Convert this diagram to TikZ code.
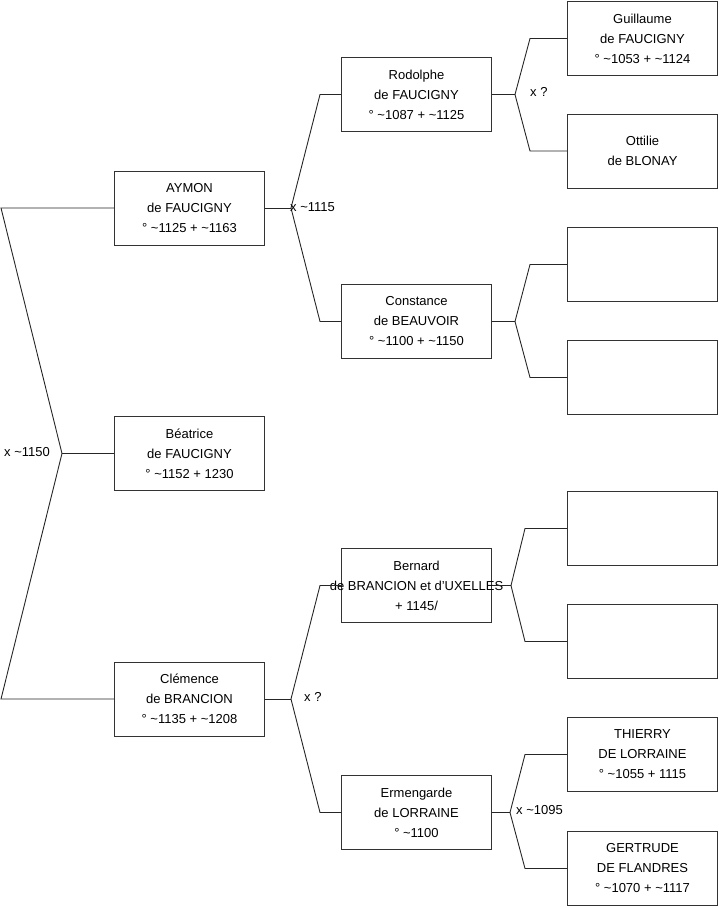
\documentclass[tikz,border=0pt]{standalone}
\usepackage{fontspec}
\setmainfont{Liberation Sans}
\begin{document}
\begin{tikzpicture}[x=1pt,y=-1pt,
  person/.style={draw=black!80, line width=1pt, minimum width=150pt, minimum height=74pt, inner sep=0pt, align=center, font=\fontsize{13}{20}\selectfont},
  link/.style={draw=black!85, line width=0.9pt},
  lbl/.style={font=\fontsize{13}{16}\selectfont, inner sep=0pt, anchor=west}]
\useasboundingbox (0,0) rectangle (719,908);

% generation 1
\node[person] (aymon) at (189.5,208) {AYMON\\de FAUCIGNY\\° \textasciitilde1125 + \textasciitilde1163};
\node[person] (beatrice) at (189.5,453.5) {Béatrice\\de FAUCIGNY\\° \textasciitilde1152 + 1230};
\node[person] (clemence) at (189.5,699) {Clémence\\de BRANCION\\° \textasciitilde1135 + \textasciitilde1208};
% generation 2
\node[person] (rodolphe) at (416.5,94.5) {Rodolphe\\de FAUCIGNY\\° \textasciitilde1087 + \textasciitilde1125};
\node[person] (constance) at (416.5,321.5) {Constance\\de BEAUVOIR\\° \textasciitilde1100 + \textasciitilde1150};
\node[person] (bernard) at (416.5,585.5) {Bernard\\\makebox[0pt][c]{de BRANCION et d'UXELLES}\\+ 1145/};
\node[person] (ermengarde) at (416.5,812.5) {Ermengarde\\de LORRAINE\\° \textasciitilde1100};
% generation 3
\node[person] (guillaume) at (642.5,38.5) {Guillaume\\de FAUCIGNY\\° \textasciitilde1053 + \textasciitilde1124};
\node[person] (ottilie) at (642.5,151) {Ottilie\\de BLONAY};
\node[person] (e1) at (642.5,264.5) {};
\node[person] (e2) at (642.5,377.5) {};
\node[person] (e3) at (642.5,528.5) {};
\node[person] (e4) at (642.5,641.5) {};
\node[person] (thierry) at (642.5,754.5) {THIERRY\\DE LORRAINE\\° \textasciitilde1055 + 1115};
\node[person] (gertrude) at (642.5,868.5) {GERTRUDE\\DE FLANDRES\\° \textasciitilde1070 + \textasciitilde1117};

% fork points
\coordinate (f0a) at (1,208);
\coordinate (f0b) at (1,699);
\coordinate (f0) at (62,453.5);
\coordinate (f1) at (291,208);
\coordinate (f1a) at (320,94.5);
\coordinate (f1b) at (320,321.5);
\coordinate (f2) at (291,699);
\coordinate (f2a) at (320,585.5);
\coordinate (f2b) at (320,812.5);
\coordinate (f3) at (515,94.5);
\coordinate (f3a) at (530,38.5);
\coordinate (f3b) at (530,151);
\coordinate (f4) at (515,321.5);
\coordinate (f4a) at (530,264.5);
\coordinate (f4b) at (530,377.5);
\coordinate (f5) at (511,585.5);
\coordinate (f5a) at (525,528.5);
\coordinate (f5b) at (525,641.5);
\coordinate (f6) at (510,812.5);
\coordinate (f6a) at (525,754.5);
\coordinate (f6b) at (525,868.5);

% connectors
\draw[link] (aymon.west) -- (f0a) -- (f0) -- (f0b) -- (clemence.west);
\draw[link] (f0) -- (beatrice.west);

\draw[link] (aymon.east) -- (f1);
\draw[link] (rodolphe.west) -- (f1a) -- (f1) -- (f1b) -- (constance.west);

\draw[link] (clemence.east) -- (f2);
\draw[link] (bernard.west) -- (f2a) -- (f2) -- (f2b) -- (ermengarde.west);

\draw[link] (rodolphe.east) -- (f3);
\draw[link] (guillaume.west) -- (f3a) -- (f3) -- (f3b) -- (ottilie.west);

\draw[link] (constance.east) -- (f4);
\draw[link] (e1.west) -- (f4a) -- (f4) -- (f4b) -- (e2.west);

\draw[link] (bernard.east) -- (f5);
\draw[link] (e3.west) -- (f5a) -- (f5) -- (f5b) -- (e4.west);

\draw[link] (ermengarde.east) -- (f6);
\draw[link] (thierry.west) -- (f6a) -- (f6) -- (f6b) -- (gertrude.west);

% marriage labels
\node[lbl] (m0) at (4,452) {x \textasciitilde1150};
\node[lbl] (m1) at (290,207) {x \textasciitilde1115};
\node[lbl] (m2) at (304,697) {x ?};
\node[lbl] (m3) at (530,92) {x ?};
\node[lbl] (m4) at (516,810) {x \textasciitilde1095};
\end{tikzpicture}
\end{document}
